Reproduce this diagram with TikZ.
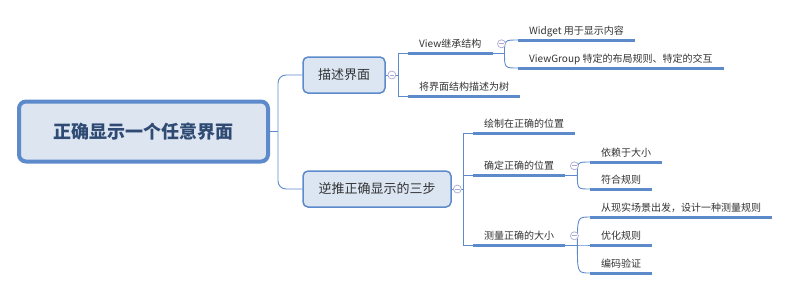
\documentclass[tikz,border=0pt]{standalone}
\usepackage{fontspec}
\setmainfont{Noto Sans CJK SC}
\usepackage{tikz}
\usepackage{xcolor}
\usetikzlibrary{calc}
\definecolor{Wire}{HTML}{5D8ACB}
\definecolor{RootFill}{HTML}{DDE5F1}
\definecolor{BoxFill}{HTML}{DCE6F3}
\definecolor{Navy}{HTML}{2F4B73}
\definecolor{Ink}{HTML}{333333}
\definecolor{Fold}{HTML}{A9A9D2}
\tikzset{
  root/.style={
    rounded corners=7pt,draw=Wire,line width=4pt,fill=RootFill,
    minimum width=249pt,minimum height=60pt,inner sep=0pt,
    font=\fontsize{18pt}{20pt}\selectfont\bfseries,text=Navy
  },
  mainbox/.style={
    rounded corners=5pt,draw=Wire,line width=1.5pt,fill=BoxFill,
    minimum height=36pt,inner sep=0pt,
    font=\fontsize{13pt}{15pt}\selectfont,text=Ink
  },
  topic/.style={
    anchor=south west,inner xsep=11pt,inner ysep=4pt,
    text height=8.5pt,text depth=1.5pt,
    font=\fontsize{10pt}{12pt}\selectfont,text=Ink
  },
  link/.style={draw=Wire,line width=0.9pt},
  uline/.style={draw=Wire,line width=3pt},
  fold/.style={
    circle,draw=Fold,fill=white,line width=0.7pt,minimum size=8pt,inner sep=0pt,
    path picture={\draw[Fold,line width=0.7pt]
      ([xshift=-2.2pt]path picture bounding box.center) --
      ([xshift=2.2pt]path picture bounding box.center);}
  }
}
\begin{document}
\begin{tikzpicture}[x=1pt,y=-1pt]
  \useasboundingbox (0,0) rectangle (791,290);
  % main topics
  \node[root] (root) at (143.5,131.5) {正确显示一个任意界面};
  \node[mainbox,minimum width=82pt] (desc) at (344,75) {描述界面};
  \node[mainbox,minimum width=148pt] (back) at (377,189) {逆推正确显示的三步};
  % subtopics
  \node[topic] (vinh) at (408,53) {View继承结构};
  \node[topic] (tree) at (408,96) {将界面结构描述为树};
  \node[topic] (widget) at (518,40) {Widget 用于显示内容};
  \node[topic] (vgroup) at (518,68) {ViewGroup 特定的布局规则、特定的交互};
  \node[topic] (paint) at (473,133) {绘制在正确的位置};
  \node[topic] (pos) at (473,175) {确定正确的位置};
  \node[topic] (size) at (473,245) {测量正确的大小};
  \node[topic] (dep) at (590,162) {依赖于大小};
  \node[topic] (rule) at (590,189) {符合规则};
  \node[topic] (real) at (590,217) {从现实场景出发，设计一种测量规则};
  \node[topic] (opt) at (590,245) {优化规则};
  \node[topic] (code) at (590,273) {编码验证};
  \foreach \n in {vinh,tree,widget,vgroup,paint,pos,size,dep,rule,real,opt,code}
    \draw[uline] (\n.south west) -- (\n.south east);
  % junctions
  \coordinate (rj) at (278,131.5);
  \coordinate (dj) at (398,75);
  \coordinate (bj) at (463,189);
  \coordinate (vj) at ($(vinh.south east)+(12,0)$);
  \coordinate (pj) at ($(pos.south east)+(12,0)$);
  \coordinate (sj) at ($(size.south east)+(12,0)$);
  % connectors
  \draw[link] (root.east) -- (rj);
  \draw[link,rounded corners=8pt] (rj) |- (desc.west);
  \draw[link,rounded corners=8pt] (rj) |- (back.west);
  \draw[link] (desc.east) -- (dj);
  \draw[link] (dj) |- (vinh.south west);
  \draw[link] (dj) |- (tree.south west);
  \draw[link] (back.east) -- (bj);
  \foreach \n in {paint,pos,size}
    \draw[link] (bj) |- (\n.south west);
  \draw[link] (vinh.south east) -- (vj);
  \foreach \n in {widget,vgroup}
    \draw[link] (vj) .. controls (vj |- \n.south west) .. (\n.south west);
  \draw[link] (pos.south east) -- (pj);
  \foreach \n in {dep,rule}
    \draw[link] (pj) .. controls (pj |- \n.south west) .. (\n.south west);
  \draw[link] (size.south east) -- (sj);
  \foreach \n in {real,opt,code}
    \draw[link] (sj) .. controls (sj |- \n.south west) .. (\n.south west);
  % fold marks
  \node[fold] (fdesc) at ($(desc.east)!0.5!(dj)$) {};
  \node[fold] (fback) at ($(back.east)!0.5!(bj)$) {};
  \node[fold] (fvinh) at ($(vinh.east)+(9,0)$) {};
  \node[fold] (fpos) at ($(pos.east)+(9,0)$) {};
  \node[fold] (fsize) at ($(size.east)+(9,0)$) {};
\end{tikzpicture}
\end{document}
